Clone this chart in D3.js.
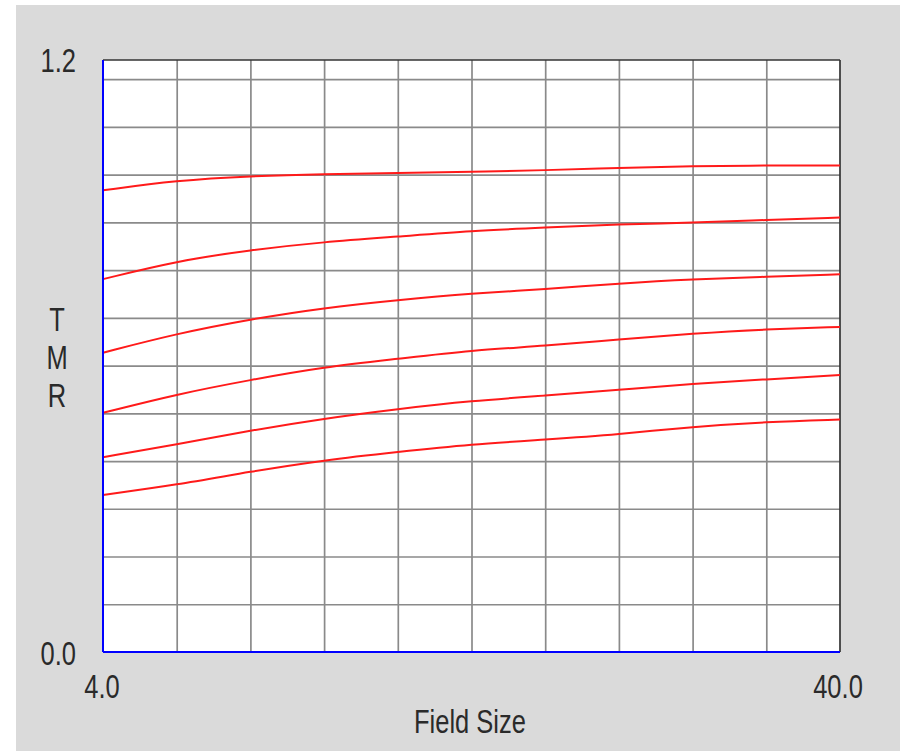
<!DOCTYPE html>
<html>
<head>
<meta charset="utf-8">
<script src="https://cdn.jsdelivr.net/npm/d3@7/dist/d3.min.js"></script>
<style>
  body { margin: 0; background: #fff; }
  text { font-family: "Liberation Sans", Arial, sans-serif; fill: #2a2a2a; }
</style>
</head>
<body>
<svg id="chart" width="900" height="751"></svg>
<script>
// field sizes (x) where curves were read
const fieldSizes = [4, 7.6, 11.2, 14.8, 18.4, 22, 25.6, 29.2, 32.8, 36.4, 40]

// TMR curves, top to bottom
const tmr1 = [0.967, 0.988, 0.997, 1.001, 1.003, 1.006, 1.009, 1.014, 1.018, 1.019, 1.019]
const tmr2 = [0.781, 0.819, 0.842, 0.859, 0.870, 0.882, 0.889, 0.896, 0.899, 0.905, 0.910]
const tmr3 = [0.627, 0.667, 0.697, 0.721, 0.737, 0.751, 0.760, 0.772, 0.781, 0.786, 0.791]
const tmr4 = [0.501, 0.540, 0.570, 0.597, 0.614, 0.632, 0.641, 0.655, 0.667, 0.676, 0.681]
const tmr5 = [0.408, 0.435, 0.464, 0.489, 0.509, 0.526, 0.537, 0.549, 0.562, 0.571, 0.580]
const tmr6 = [0.329, 0.350, 0.378, 0.402, 0.419, 0.435, 0.445, 0.456, 0.472, 0.482, 0.487]
const series = [tmr1, tmr2, tmr3, tmr4, tmr5, tmr6]

const yGrid = [0.1, 0.2, 0.3, 0.4, 0.5, 0.6, 0.7, 0.8, 0.9, 1.0, 1.1, 1.2]
const xLabels = ["4.0", "40.0"]
const yLabels = ["0.0", "1.2"]

const plotL = 103, plotR = 840, plotT = 60, plotB = 652

const x = d3.scaleLinear().domain([4, 40]).range([plotL, plotR])
const y = d3.scaleLinear().domain([0, 1.24]).range([plotB, plotT])

const svg = d3.select("#chart")

// panel background
svg.append("rect")
  .attr("x", 16).attr("y", 5)
  .attr("width", 884).attr("height", 746)
  .attr("fill", "#dadada")

svg.append("rect")
  .attr("x", plotL).attr("y", plotT)
  .attr("width", plotR - plotL).attr("height", plotB - plotT)
  .attr("fill", "#fff")

// grid via axes
const gx = svg.append("g")
  .attr("transform", `translate(0,${plotB})`)
  .call(d3.axisBottom(x).tickValues(fieldSizes.slice(1, -1)).tickSize(-(plotB - plotT)).tickFormat(""))
const gy = svg.append("g")
  .attr("transform", `translate(${plotL},0)`)
  .call(d3.axisLeft(y).tickValues(yGrid).tickSize(-(plotR - plotL)).tickFormat(""))

for (const g of [gx, gy]) {
  g.select(".domain").remove()
  g.selectAll(".tick line").attr("stroke", "#8a8a8a").attr("stroke-width", 1.7)
}

// frame: top/right dark, left/bottom blue
svg.append("line").attr("x1", plotL).attr("x2", plotR).attr("y1", plotT).attr("y2", plotT)
  .attr("stroke", "#333").attr("stroke-width", 1.7)
svg.append("line").attr("x1", plotR).attr("x2", plotR).attr("y1", plotT).attr("y2", plotB)
  .attr("stroke", "#333").attr("stroke-width", 1.7)

// curves
const line = d3.line()
  .x((d, i) => x(fieldSizes[i]))
  .y(d => y(d))
  .curve(d3.curveBasis)

svg.selectAll(".tmr")
  .data(series)
  .enter()
  .append("path")
  .attr("class", "tmr")
  .attr("d", line)
  .attr("fill", "none")
  .attr("stroke", "#ff1a1a")
  .attr("stroke-width", 2)

svg.append("line").attr("x1", plotL).attr("x2", plotL).attr("y1", plotT).attr("y2", plotB)
  .attr("stroke", "#0000ff").attr("stroke-width", 2)
svg.append("line").attr("x1", plotL).attr("x2", plotR).attr("y1", plotB).attr("y2", plotB)
  .attr("stroke", "#0000ff").attr("stroke-width", 2)

// labels (the original text is stretched vertically)
const fs = 25.5, sy = 1.3
function label(txt, px, baseline, anchor) {
  svg.append("text")
    .attr("transform", `translate(${px},${baseline}) scale(1,${sy})`)
    .attr("text-anchor", anchor)
    .attr("font-size", fs)
    .text(txt)
}

label(yLabels[0], 76, y(0) + 13, "end")
label(yLabels[1], 76, y(1.24) + 12, "end")
label(xLabels[0], x(4) - 1, 698, "middle")
label(xLabels[1], x(40) - 2, 698, "middle")
label("Field Size", 470, 733, "middle")

const tmrY = [331, 369, 407]
"TMR".split("").forEach((c, i) => label(c, 57, tmrY[i], "middle"))
</script>
</body>
</html>
